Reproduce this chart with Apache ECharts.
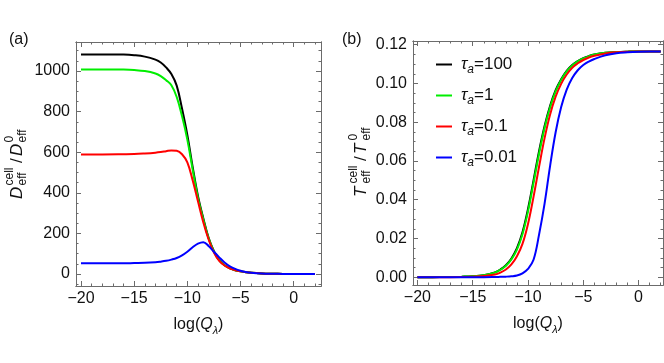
<!DOCTYPE html>
<html><head><meta charset="utf-8">
<script src="https://cdn.jsdelivr.net/npm/echarts@6/dist/echarts.min.js"></script>
<style>html,body{margin:0;padding:0;background:#fff}#c{width:664px;height:363px}</style>
</head><body><div id="c"></div>
<script>
// shared x positions: log(Q_lambda)
const logQ = [-20,-18,-16,-15,-14,-13,-12.5,-12,-11.5,-11,-10.5,-10,-9.5,-9,-8.5,-8,-7.5,-7,-6.5,-6,-5.5,-5,-4.5,-4,-3,-2,-1,0,1,2];
const tauLabels = ['100','1','0.1','0.01'];
const colors = ['#000000','#00ee00','#ff0000','#0000ff'];

// panel (a): D_eff^cell / D_eff^0
const D_tau100 = [1082,1082,1081,1078,1071,1056,1042,1018,985,928,815,685,528,385,275,178,112,68,43,28,19,13,9,6,3,1.5,0.7,0.3,0.1,0.05];
const D_tau1   = [1008,1008,1007,1005,1000,988,975,955,930,872,778,662,515,375,270,176,111,68,43,28,19,13,9,6,3,1.5,0.7,0.3,0.1,0.05];
const D_tau01  = [589,589,590,591,594,598,601,605,609,607,590,550,462,358,255,170,106,65,42,28,19,13,9,6,3,1.5,0.7,0.3,0.1,0.05];
const D_tau001 = [53,53,53,54,55,58,61,65,71,79,92,110,132,150,157,138,110,82,57,38,25,16,10,6.5,3,1.5,0.7,0.3,0.1,0.05];

// panel (b): T_eff^cell / T_eff^0
const T_tau100 = [0,0.0001,0.0003,0.0005,0.0011,0.0025,0.0040,0.0062,0.0097,0.0150,0.0232,0.0352,0.0500,0.0650,0.0780,0.0885,0.0965,0.1022,0.1065,0.1095,0.1115,0.1130,0.1141,0.1149,0.1158,0.1162,0.1164,0.1165,0.1165,0.1165];
const T_tau1   = [0,0.0001,0.0003,0.0005,0.0011,0.0024,0.0038,0.0059,0.0092,0.0143,0.0222,0.0340,0.0487,0.0637,0.0770,0.0877,0.0959,0.1018,0.1062,0.1093,0.1114,0.1129,0.1140,0.1149,0.1158,0.1162,0.1164,0.1165,0.1165,0.1165];
const T_tau01  = [0,0,0.0001,0.0003,0.0006,0.0014,0.0024,0.0040,0.0066,0.0108,0.0172,0.0275,0.0415,0.0570,0.0718,0.0840,0.0932,0.0998,0.1046,0.1081,0.1104,0.1121,0.1134,0.1143,0.1155,0.1161,0.1164,0.1165,0.1165,0.1165];
const T_tau001 = [0,0,0,0,0,0.0001,0.0002,0.0003,0.0005,0.0009,0.0020,0.0043,0.0090,0.0220,0.0380,0.0575,0.0748,0.0878,0.0968,0.1028,0.1068,0.1095,0.1113,0.1126,0.1145,0.1156,0.1161,0.1164,0.1165,0.1165];

const xMajor = [-20,-15,-10,-5,0];
const xMinor = [-19,-18,-17,-16,-14,-13,-12,-11,-9,-8,-7,-6,-4,-3,-2,-1,1,2];
const yMajorA = [0,200,400,600,800,1000];
const yMinorA = [-50,50,100,150,250,300,350,450,500,550,650,700,750,850,900,950,1050,1100];
const yMajorB = [0,0.02,0.04,0.06,0.08,0.10,0.12];
const yMinorB = [0.005,0.01,0.015,0.025,0.03,0.035,0.045,0.05,0.055,0.065,0.07,0.075,0.085,0.09,0.095,0.105,0.11,0.115];

const FONT = 'Liberation Sans';
const FRAME = '#6b6b6b';
const minus = v => v < 0 ? '\u2212' + (-v) : String(v);

const grids = [
  {left: 76, top: 42, right: 343, bottom: 77},
  {left: 413, top: 41, right: 1, bottom: 78}
];
const panels = [
  {xmin: -20.47, xmax: 2.57, ymin: -59, ymax: 1143, yMaj: yMajorA, yMin: yMinorA, yFmt: v => String(v), data: [D_tau100, D_tau1, D_tau01, D_tau001]},
  {xmin: -20.4, xmax: 2.21, ymin: -0.004, ymax: 0.1219, yMaj: yMajorB, yMin: yMinorB, yFmt: v => v.toFixed(2), data: [T_tau100, T_tau1, T_tau01, T_tau001]}
];

const xAxes = [], yAxes = [], series = [];
const lbl = {color: '#111', fontSize: 16, fontFamily: FONT};
const nameRich = {
  n: {fontSize: 16, fontFamily: FONT, color: '#111', lineHeight: 22},
  q: {fontSize: 16, fontFamily: FONT, color: '#111', fontStyle: 'italic', lineHeight: 22},
  s: {fontSize: 11, fontFamily: FONT, color: '#111', fontStyle: 'italic', lineHeight: 11, verticalAlign: 'bottom'}
};
panels.forEach((p, g) => {
  const xBase = xAxes.length, yBase = yAxes.length;
  const mk = (pos, ticks, len, labels, isX) => {
    const ax = {
      gridIndex: g, type: 'value', position: pos,
      min: isX ? p.xmin : p.ymin, max: isX ? p.xmax : p.ymax,
      splitLine: {show: false},
      axisLine: {show: true, onZero: false, lineStyle: {color: FRAME, width: 1}},
      axisTick: {show: true, inside: true, length: len, customValues: ticks, lineStyle: {color: FRAME, width: 1}},
      axisLabel: {show: !!labels, customValues: ticks, margin: isX ? 5 : 6, formatter: isX ? minus : p.yFmt, ...lbl, showMinLabel: true, showMaxLabel: true},
      silent: true
    };
    if (!labels) ax.axisLabel = {show: false};
    return ax;
  };
  const xm = mk('bottom', xMajor, 5, true, true);
  xm.name = '{n|log(}{q|Q}{s|\u03bb}{n|)}';
  xm.nameLocation = 'middle';
  xm.nameGap = 28;
  xm.nameTextStyle = {rich: nameRich};
  xAxes.push(xm, mk('bottom', xMinor, 2.5, false, true), mk('top', xMajor, 5, false, true), mk('top', xMinor, 2.5, false, true));
  yAxes.push(mk('left', p.yMaj, 5, true, false), mk('left', p.yMin, 2.5, false, false), mk('right', p.yMaj, 5, false, false), mk('right', p.yMin, 2.5, false, false));
  p.data.forEach((arr, k) => {
    series.push({
      type: 'line', name: '\u03c4a=' + tauLabels[k],
      xAxisIndex: xBase, yAxisIndex: yBase,
      data: logQ.map((x, i) => [x, arr[i]]),
      smooth: 0.4, showSymbol: false, symbol: 'none',
      lineStyle: {color: colors[k], width: 2}, itemStyle: {color: colors[k]},
      animation: false, silent: true, z: 2 + k
    });
  });
});

// stacked super/subscript axis titles (rotated)
function fracTitle(cx, cy, letter) {
  const big = 17, sm = 12;
  const fb = 'italic ' + big + 'px "' + FONT + '"', fs = sm + 'px "' + FONT + '"', fr = big + 'px "' + FONT + '"';
  const W = 74, x0 = -W / 2;
  const t = (text, x, y, font) => ({type: 'text', style: {text, x, y, font, fill: '#111', textAlign: 'left', textVerticalAlign: 'middle', align: 'left', verticalAlign: 'middle'}});
  return {
    type: 'group', x: cx, y: cy, rotation: Math.PI / 2, silent: true,
    children: [
      t(letter, x0, 0, fb),
      t('cell', x0 + 13.5, -7, fs),
      t('eff', x0 + 13.5, 6, fs),
      t('/', x0 + 36, 0, fr),
      t(letter, x0 + 43, 0, fb),
      t('0', x0 + 56.5, -7, fs),
      t('eff', x0 + 56.5, 6, fs)
    ]
  };
}

const option = {
  animation: false,
  backgroundColor: '#fff',
  grid: grids,
  xAxis: xAxes,
  yAxis: yAxes,
  series,
  legend: {
    show: true, orient: 'vertical', left: 431, top: 51,
    itemWidth: 16, itemHeight: 2, itemGap: 11.5, icon: 'rect',
    selectedMode: false,
    data: tauLabels.map(t => ({name: '\u03c4a=' + t, itemStyle: {color: colors[tauLabels.indexOf(t)]}})),
    formatter: name => '{t|\u03c4}{s|a}{n|' + name.slice(2) + '}',
    textStyle: {
      padding: [0, 0, 0, 4],
      rich: {
        t: {fontSize: 17, fontFamily: FONT, fontStyle: 'italic', color: '#111', lineHeight: 22},
        s: {fontSize: 12, fontFamily: FONT, fontStyle: 'italic', color: '#111', lineHeight: 12, verticalAlign: 'bottom'},
        n: {fontSize: 17, fontFamily: FONT, color: '#111', lineHeight: 22}
      }
    }
  },
  graphic: [
    {type: 'text', style: {text: '(a)', x: 9, y: 40, font: '16px "' + FONT + '"', fill: '#111', textVerticalAlign: 'middle', verticalAlign: 'middle'}},
    {type: 'text', style: {text: '(b)', x: 342, y: 40, font: '16px "' + FONT + '"', fill: '#111', textVerticalAlign: 'middle', verticalAlign: 'middle'}},
    fracTitle(17, 162, 'D'),
    fracTitle(361, 160, 'T')
  ]
};
const chart = echarts.init(document.getElementById('c'), null, {renderer: 'canvas'});
chart.setOption(option);
</script></body></html>
